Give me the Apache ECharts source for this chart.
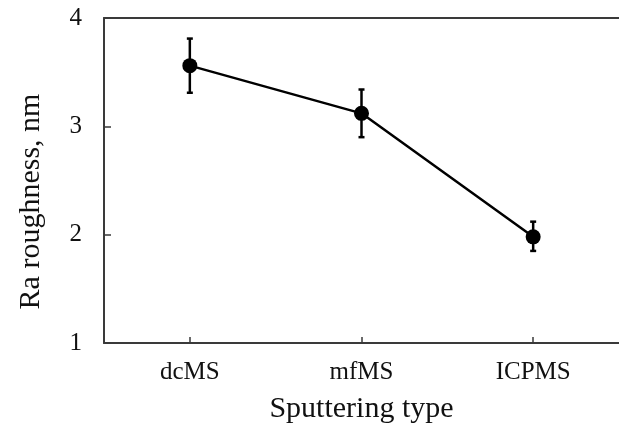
<!DOCTYPE html>
<html>
<head>
<meta charset="utf-8">
<script src="https://cdn.jsdelivr.net/npm/echarts@6/dist/echarts.min.js"></script>
<style>
  html, body { margin: 0; padding: 0; background: #fff; }
  #chart { width: 619px; height: 433px; }
</style>
</head>
<body>
<div id="chart"></div>
<script>
// sputtering types and Ra roughness (nm), with error bar ends
const categories = ['dcMS', 'mfMS', 'ICPMS'];
const roughness = [3.56, 3.12, 1.98];
const errLow = [3.31, 2.90, 1.85];
const errHigh = [3.81, 3.34, 2.12];
const yTicks = [1, 2, 3, 4];

const chart = echarts.init(document.getElementById('chart'), null, { renderer: 'canvas' });

const font = 'Liberation Serif, Times New Roman, serif';
const axisColor = '#3a3a3a';

const errData = categories.map((c, i) => [i, errLow[i], errHigh[i]]);

chart.setOption({
  animation: false,
  grid: { left: 104, right: -2, top: 18, bottom: 90 },
  xAxis: [
    {
      type: 'category',
      data: categories,
      boundaryGap: true,
      name: 'Sputtering type',
      nameLocation: 'middle',
      nameGap: 51,
      nameTextStyle: { fontFamily: font, fontSize: 30, color: '#111' },
      axisLine: { onZero: false, lineStyle: { color: axisColor, width: 2 } },
      // ticks point into the plot
      axisTick: { show: true, alignWithLabel: true, length: -6, lineStyle: { color: axisColor, width: 1.5 } },
      axisLabel: { fontFamily: font, fontSize: 25, color: '#111', margin: 17 },
      splitLine: { show: false }
    },
    {
      // top frame line only
      type: 'category',
      data: categories,
      position: 'top',
      axisLine: { onZero: false, lineStyle: { color: axisColor, width: 2 } },
      axisTick: { show: false },
      axisLabel: { show: false },
      splitLine: { show: false }
    }
  ],
  yAxis: {
    type: 'value',
    position: 'left',
    min: yTicks[0],
    max: yTicks[yTicks.length - 1],
    interval: 1,
    name: 'Ra roughness, nm',
    nameLocation: 'middle',
    nameGap: 58,
    nameTextStyle: { fontFamily: font, fontSize: 30, color: '#111', padding: [0, 42, 0, 0] },
    axisLine: { show: true, onZero: false, lineStyle: { color: axisColor, width: 2 } },
    axisTick: { show: true, length: -7, lineStyle: { color: axisColor, width: 1.5 } },
    axisLabel: { fontFamily: font, fontSize: 25, color: '#111', margin: 22 },
    splitLine: { show: false }
  },
  series: [
    {
      type: 'custom',
      data: errData,
      z: 3,
      renderItem: function (params, api) {
        const x = api.value(0);
        const lo = api.coord([x, api.value(1)]);
        const hi = api.coord([x, api.value(2)]);
        const cap = 3;
        const style = { stroke: '#000', lineWidth: 2.5 };
        return {
          type: 'group',
          children: [
            { type: 'line', shape: { x1: lo[0], y1: lo[1], x2: hi[0], y2: hi[1] }, style: style },
            { type: 'line', shape: { x1: lo[0] - cap, y1: lo[1], x2: lo[0] + cap, y2: lo[1] }, style: style },
            { type: 'line', shape: { x1: hi[0] - cap, y1: hi[1], x2: hi[0] + cap, y2: hi[1] }, style: style }
          ]
        };
      }
    },
    {
      type: 'line',
      data: roughness,
      z: 4,
      symbol: 'circle',
      symbolSize: 15,
      itemStyle: { color: '#000' },
      lineStyle: { color: '#000', width: 2.5 }
    }
  ]
});
</script>
</body>
</html>
